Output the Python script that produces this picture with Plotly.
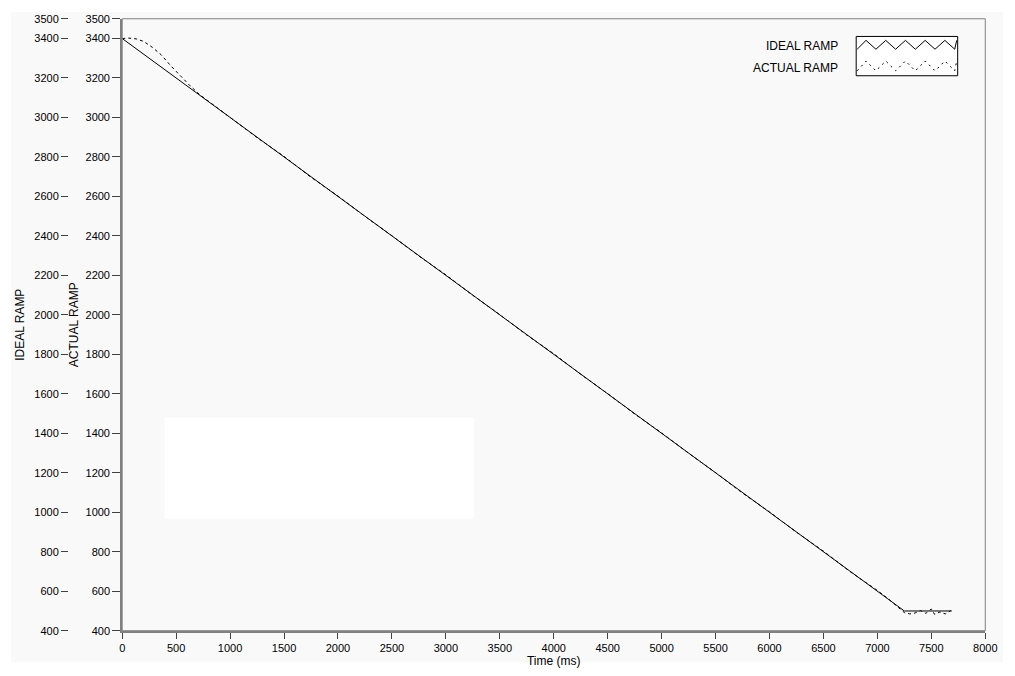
import plotly.graph_objects as go

W, H = 1015, 676

# ---------------- data ----------------
ideal_t = [0, 7250, 7690]
ideal_v = [3400, 500, 500]

actual_t = [0, 60, 130, 200, 280, 360, 450, 540, 630, 720, 820, 920, 1000,
            1250, 1500, 1750, 2000, 2250, 2500, 2750, 3000, 3250, 3500, 3750,
            4000, 4250, 4500, 4750, 5000, 5250, 5500, 5750, 6000, 6250, 6500,
            6750, 7000, 7100, 7200, 7250, 7300, 7350, 7400, 7450, 7500, 7530,
            7580, 7630, 7680]
actual_v = [3400, 3402, 3398, 3385, 3355, 3318, 3262, 3210, 3160, 3115, 3074,
            3034, 3003, 2898, 2803, 2697, 2602, 2499, 2401, 2298, 2203, 2099,
            2001, 1898, 1803, 1699, 1601, 1498, 1402, 1299, 1201, 1097, 1002,
            899, 803, 698, 604, 562, 515, 492, 485, 490, 502, 488, 510, 483,
            495, 485, 502]

y_ticks = [400, 600, 800, 1000, 1200, 1400, 1600, 1800, 2000, 2200, 2400,
           2600, 2800, 3000, 3200, 3400, 3500]
x_ticks = [0, 500, 1000, 1500, 2000, 2500, 3000, 3500, 4000, 4500, 5000,
           5500, 6000, 6500, 7000, 7500, 8000]

series_names = ["IDEAL RAMP", "ACTUAL RAMP"]
x_title = "Time (ms)"

# ---------------- helpers ----------------
def px(x):
    return x / W

def py(y):
    return 1 - y / H

BG = "#F9F9F9"
FONT = "Liberation Sans, Arial, sans-serif"
AXC = "#808080"

fig = go.Figure()
fig.add_trace(go.Scatter(x=ideal_t, y=ideal_v, mode="lines", name=series_names[0],
                         yaxis="y2", line=dict(color="black", width=1)))
fig.add_trace(go.Scatter(x=actual_t, y=actual_v, mode="lines", name=series_names[1],
                         yaxis="y", line=dict(color="black", width=1, dash="3px,3px")))

x0, x1 = px(121), px(997)
y0, y1 = py(636), py(13)

shapes = [
    # gray panel
    dict(type="rect", xref="paper", yref="paper", x0=px(8), x1=1, y0=py(668), y1=py(6),
         fillcolor=BG, line=dict(width=0), layer="below"),
    # white box inside the plot
    dict(type="rect", xref="paper", yref="paper", x0=px(164), x1=px(478), y0=py(522), y1=py(419),
         fillcolor="white", line=dict(width=0), layer="above"),
    # plot frame
    dict(type="rect", xref="paper", yref="paper", x0=x0, x1=x1, y0=y0, y1=y1,
         line=dict(color=AXC, width=1), layer="above"),
    # legend box
    dict(type="rect", xref="paper", yref="paper", x0=px(866), x1=px(969), y0=py(71), y1=py(31),
         line=dict(color="black", width=1), fillcolor="white", layer="above"),
]

# legend sample zigzags
def zig(xs, ylo, yhi):
    pts = []
    for i, xx in enumerate(xs):
        yy = ylo if i % 2 == 0 else yhi
        pts.append(f"{px(xx):.5f},{py(yy):.5f}")
    return "M " + " L ".join(pts)

zx = [867, 876, 886, 896, 906, 916, 926, 936, 946, 956, 966, 968]
shapes.append(dict(type="path", xref="paper", yref="paper", path=zig(zx, 44, 35),
                   line=dict(color="black", width=1), layer="above"))
shapes.append(dict(type="path", xref="paper", yref="paper", path=zig(zx, 66, 56),
                   line=dict(color="black", width=1, dash="2px,4px"), layer="above"))

annotations = [
    dict(text=series_names[0], xref="paper", yref="paper", x=px(850), y=py(41),
         xanchor="right", yanchor="middle", showarrow=False,
         font=dict(family=FONT, size=12, color="black")),
    dict(text=series_names[1], xref="paper", yref="paper", x=px(850), y=py(63),
         xanchor="right", yanchor="middle", showarrow=False,
         font=dict(family=FONT, size=12, color="black")),
]

fig.update_layout(
    width=W, height=H,
    margin=dict(l=0, r=0, t=0, b=0),
    paper_bgcolor="white",
    plot_bgcolor=BG,
    showlegend=False,
    font=dict(family=FONT, size=11, color="black"),
    shapes=shapes,
    annotations=annotations,
    xaxis=dict(domain=[x0, x1], range=[0, 8000], tickvals=x_ticks, tickformat="d",
               ticks="outside", ticklen=6, tickcolor="#404040", showgrid=False,
               zeroline=False, showline=True, linecolor=AXC, linewidth=2,
               title=dict(text=x_title, font=dict(size=12), standoff=2)),
    yaxis=dict(domain=[y0, y1], range=[400, 3500], tickvals=y_ticks, tickformat="d",
               ticks="outside", ticklen=8, tickcolor="#404040", showgrid=False,
               zeroline=False, showline=True, linecolor=AXC, linewidth=2,
               anchor="x",
               title=dict(text=series_names[1], font=dict(size=12), standoff=4)),
    yaxis2=dict(domain=[y0, y1], range=[400, 3500], tickvals=y_ticks, tickformat="d",
                ticks="outside", ticklen=7, tickcolor="#404040", showgrid=False,
                zeroline=False, showline=False, overlaying="y", anchor="free",
                side="left", position=px(66),
                title=dict(text=series_names[0], font=dict(size=12), standoff=6)),
)

post = """
document.documentElement.style.margin='0';
document.body.style.margin='0';
document.body.style.overflow='hidden';
document.documentElement.style.overflow='hidden';
"""

fig.write_html("out.html", config={"displayModeBar": False}, post_script=post)
